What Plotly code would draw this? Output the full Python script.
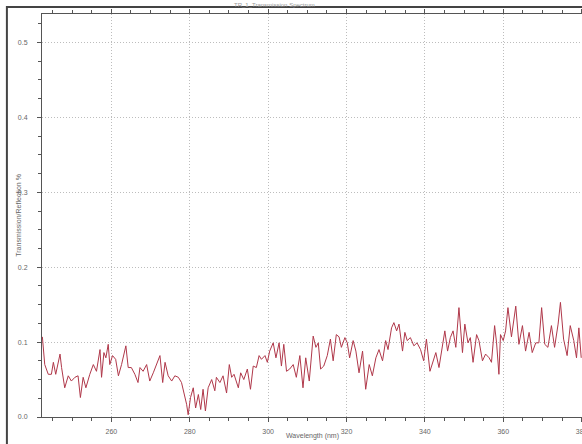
import plotly.graph_objects as go

wavelength = [
    242.4, 243.0, 243.9, 244.7, 245.2, 245.8, 246.9, 247.3, 248.1, 249.0,
    249.8, 250.7, 251.5, 252.1, 252.8, 253.5, 254.5, 255.4, 256.2, 257.1,
    257.5, 258.1, 258.6, 259.2, 259.6, 260.3, 261.1, 261.8, 262.6, 263.7,
    264.3, 265.1, 266.0, 266.8, 267.3, 268.1, 269.0, 269.8, 270.7, 271.5,
    272.4, 273.1, 273.7, 274.5, 275.4, 276.2, 277.1, 277.9, 278.6, 279.2,
    279.6, 280.2, 280.9, 281.5, 282.2, 282.8, 283.4, 284.0, 284.7, 285.6,
    286.4, 286.8, 287.7, 288.5, 289.4, 290.1, 290.7, 291.3, 292.4, 293.0,
    293.8, 294.7, 295.5, 296.2, 297.0, 297.7, 298.3, 299.2, 299.8, 300.4,
    301.3, 302.0, 302.8, 303.4, 304.0, 304.7, 305.5, 306.4, 307.2, 308.1,
    308.9, 309.6, 310.5, 311.5, 312.2, 312.8, 313.4, 314.2, 315.1, 315.9,
    316.6, 317.4, 318.1, 318.7, 319.6, 320.2, 320.8, 321.7, 322.4, 323.2,
    324.1, 324.9, 325.8, 326.6, 327.5, 328.3, 329.2, 330.0, 330.6, 331.5,
    332.1, 332.8, 333.4, 334.3, 334.9, 335.5, 336.3, 337.2, 338.0, 338.9,
    339.7, 340.4, 341.3, 341.9, 342.8, 343.6, 344.5, 345.1, 345.8, 346.5,
    347.2, 347.9, 348.7, 349.6, 350.2, 351.0, 351.6, 352.3, 353.2, 353.8,
    354.7, 355.5, 356.4, 357.0, 357.8, 358.3, 358.9, 359.3, 360.0, 360.6,
    361.2, 362.1, 363.2, 364.0, 364.9, 365.7, 366.6, 367.4, 368.3, 369.1,
    369.8, 370.6, 371.4, 372.3, 373.1, 374.0, 374.6, 375.4, 376.3, 377.1,
    378.0, 378.7, 379.3, 379.9,
]

signal = [
    0.107, 0.070, 0.057, 0.057, 0.073, 0.057, 0.084, 0.066, 0.039, 0.055,
    0.048, 0.053, 0.055, 0.026, 0.053, 0.039, 0.057, 0.070, 0.061, 0.090,
    0.053, 0.086, 0.079, 0.097, 0.070, 0.082, 0.077, 0.055, 0.070, 0.095,
    0.066, 0.066, 0.057, 0.046, 0.066, 0.061, 0.070, 0.048, 0.059, 0.070,
    0.082, 0.046, 0.073, 0.055, 0.048, 0.055, 0.053, 0.046, 0.030, 0.017,
    0.003, 0.026, 0.039, 0.012, 0.030, 0.010, 0.037, 0.008, 0.039, 0.050,
    0.035, 0.053, 0.046, 0.055, 0.032, 0.070, 0.053, 0.057, 0.039, 0.059,
    0.050, 0.064, 0.037, 0.068, 0.066, 0.082, 0.077, 0.082, 0.073, 0.088,
    0.099, 0.079, 0.099, 0.068, 0.097, 0.061, 0.064, 0.070, 0.053, 0.082,
    0.039, 0.079, 0.048, 0.108, 0.093, 0.099, 0.064, 0.068, 0.082, 0.104,
    0.075, 0.110, 0.107, 0.093, 0.106, 0.099, 0.079, 0.102, 0.088, 0.059,
    0.088, 0.037, 0.070, 0.055, 0.079, 0.090, 0.075, 0.102, 0.090, 0.119,
    0.126, 0.115, 0.124, 0.088, 0.113, 0.102, 0.106, 0.095, 0.099, 0.090,
    0.075, 0.104, 0.061, 0.070, 0.086, 0.066, 0.097, 0.115, 0.088, 0.106,
    0.115, 0.093, 0.146, 0.086, 0.124, 0.099, 0.106, 0.073, 0.110, 0.102,
    0.075, 0.084, 0.079, 0.073, 0.122, 0.099, 0.057, 0.110, 0.102, 0.115,
    0.146, 0.107, 0.148, 0.097, 0.122, 0.088, 0.113, 0.086, 0.099, 0.099,
    0.146, 0.097, 0.093, 0.122, 0.093, 0.124, 0.153, 0.104, 0.082, 0.122,
    0.102, 0.079, 0.119, 0.079,
]

x_ticks = [260, 280, 300, 320, 340, 360, 380]
y_ticks = [0.0, 0.1, 0.2, 0.3, 0.4, 0.5]

fig = go.Figure()
fig.add_trace(go.Scatter(
    x=wavelength, y=signal, mode="lines",
    line=dict(color="#b0384a", width=1),
    showlegend=False, hoverinfo="skip",
))

axis_font = dict(family="Liberation Sans, Arial, sans-serif", size=7, color="#666666")

fig.update_layout(
    width=582, height=444,
    margin=dict(l=42, r=0, t=14, b=27, pad=0, autoexpand=False),
    paper_bgcolor="white", plot_bgcolor="white",
    xaxis=dict(
        range=[242.3, 380.1], automargin=False,
        tickvals=x_ticks, ticktext=[str(v) for v in x_ticks],
        ticks="outside", ticklen=4, tickcolor="#555555", tickwidth=1,
        showline=True, linecolor="#555555", linewidth=1, mirror="allticks",
        showgrid=True, gridcolor="#bdbdbd", griddash="1px,2px", gridwidth=1,
        zeroline=False, tickfont=axis_font, ticklabeloverflow="allow",
        ticklabelstandoff=4,
        minor=dict(dtick=5, tick0=0, ticks="outside", ticklen=3,
                   tickcolor="#555555", showgrid=False),
    ),
    yaxis=dict(
        range=[0, 0.538], automargin=False,
        tickvals=y_ticks, ticktext=["%.1f" % v for v in y_ticks],
        ticks="outside", ticklen=4, tickcolor="#555555", tickwidth=1,
        showline=True, linecolor="#555555", linewidth=1,
        showgrid=True, gridcolor="#bdbdbd", griddash="1px,2px", gridwidth=1,
        zeroline=False, tickfont=axis_font, ticklabelstandoff=8,
        minor=dict(dtick=0.025, tick0=0, ticks="outside", ticklen=3,
                   tickcolor="#555555", showgrid=False),
    ),
    shapes=[dict(
        type="rect", xref="paper", yref="paper",
        x0=-0.065, x1=1.2, y0=-0.2, y1=1.0174,
        line=dict(color="#444444", width=2), fillcolor="rgba(0,0,0,0)",
        layer="below",
    )],
    annotations=[
        dict(text="Transmission/Reflection %", xref="paper", yref="paper",
             x=-0.044, y=0.5, xanchor="center", yanchor="middle",
             textangle=-90, showarrow=False, font=axis_font),
        dict(text="Wavelength (nm)", xref="paper", yref="paper",
             x=0.5, y=-0.048, xanchor="center", yanchor="middle",
             showarrow=False, font=axis_font),
        dict(text="TR_1_Transmission Spectrum", xref="paper", yref="paper",
             x=0.43, y=1.0225, xanchor="center", yanchor="middle",
             showarrow=False,
             font=dict(family="Liberation Sans, Arial, sans-serif", size=6, color="#999999")),
    ],
)

fig.write_html(
    "out.html",
    config={"displayModeBar": False},
    post_script="document.body.style.margin='0';document.body.style.overflow='hidden';",
)
